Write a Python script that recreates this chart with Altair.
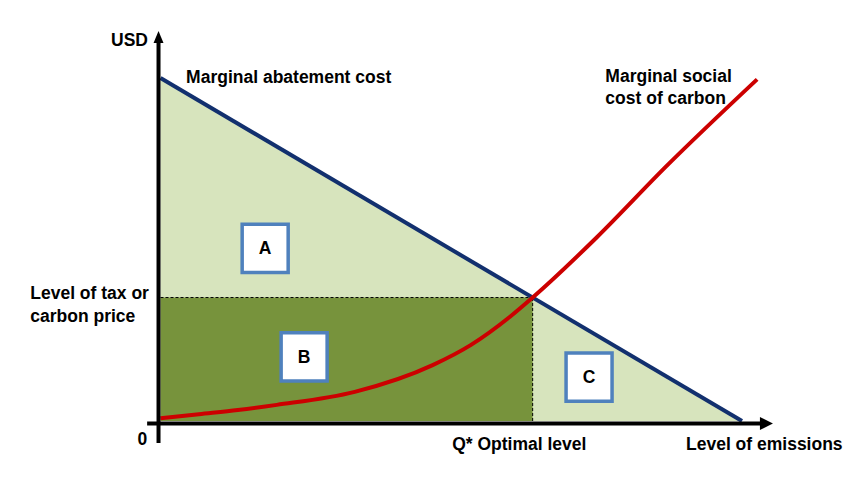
import altair as alt
import pandas as pd

# ---- data (economic units: quantity of emissions 0-100, USD 0-100) ----
Q_STAR = 64.0          # optimal emissions level
PRICE = 36.0           # level of tax / carbon price

mac_q = [0, 100]       # marginal abatement cost line
mac_p = [100, 0]

msc_q = [0, 6.6, 13.3, 20.0, 33.4, 46.8, 53.4, 60.1, 64.0, 75.0, 87.0, 102.6]
msc_p = [0.8, 2.0, 3.2, 4.7, 8.5, 16.3, 22.2, 30.4, 36.0, 53.5, 74.3, 99.6]

box_labels = ["A", "B", "C"]
box_q = [18.0, 24.7, 73.7]
box_p = [50.3, 18.7, 12.8]

left_texts = ["Marginal abatement cost", "Marginal social", "cost of carbon",
              "Level of tax or", "carbon price"]
left_q = [4.4, 76.5, 76.5, -22.4, -22.4]
left_p = [98.5, 98.7, 92.3, 35.5, 29.0]

center_texts = ["0", "Q* Optimal level"]
center_q = [-3.1, 61.7]
center_p = [-7.0, -8.5]

right_texts = ["USD", "Level of emissions"]
right_q = [-2.15, 117.3]
right_p = [109.2, -8.5]

FONT = "Liberation Sans"
FS = 17.5
BLUE = "#12306e"
RED = "#cc0000"
LIGHT = "#d7e4bd"
DARK = "#77933c"
BOXC = "#4f81bd"

xs = alt.Scale(domain=[0, 100], range=[152.5, 734], nice=False, zero=False)
ys = alt.Scale(domain=[0, 100], range=[413, 70], nice=False, zero=False)


def X(field="q"):
    return alt.X(f"{field}:Q", scale=xs, axis=None)


def Y(field="p"):
    return alt.Y(f"{field}:Q", scale=ys, axis=None)


# light green triangle under the MAC line
tri_df = pd.DataFrame({"q": mac_q, "p": mac_p, "p0": [0, 0]})
tri = alt.Chart(tri_df).mark_area(color=LIGHT, opacity=1).encode(
    x=X(), y=Y(), y2="p0:Q")

# dark green rectangle B
rect_df = pd.DataFrame({"q0": [0], "q1": [Q_STAR], "p0": [0], "p1": [PRICE]})
rect = alt.Chart(rect_df).mark_rect(color=DARK, opacity=1).encode(
    x=X("q0"), x2="q1:Q", y=Y("p0"), y2="p1:Q")

# dashed guide lines
hdash = alt.Chart(pd.DataFrame({"q0": [0], "q1": [Q_STAR], "p": [PRICE]})).mark_rule(
    color="black", strokeWidth=1, strokeDash=[3, 2]).encode(x=X("q0"), x2="q1:Q", y=Y())
vdash = alt.Chart(pd.DataFrame({"q": [Q_STAR], "p0": [0], "p1": [PRICE]})).mark_rule(
    color="black", strokeWidth=1, strokeDash=[3, 2]).encode(x=X(), y=Y("p0"), y2="p1:Q")

# MAC line
mac = alt.Chart(pd.DataFrame({"q": mac_q, "p": mac_p})).mark_line(
    color=BLUE, strokeWidth=4).encode(x=X(), y=Y())

# MSC curve
msc = alt.Chart(pd.DataFrame({"q": msc_q, "p": msc_p})).mark_line(
    color=RED, strokeWidth=4, interpolate="monotone").encode(x=X(), y=Y(), order="q:Q")

# axes
xaxis = alt.Chart(pd.DataFrame({"q0": [-2.3], "q1": [103.7], "p": [-0.73]})).mark_rule(
    color="black", strokeWidth=4).encode(x=X("q0"), x2="q1:Q", y=Y())
yaxis = alt.Chart(pd.DataFrame({"q": [-0.34], "p0": [-6.4], "p1": [110.5]})).mark_rule(
    color="black", strokeWidth=4).encode(x=X(), y=Y("p0"), y2="p1:Q")

xarrow = alt.Chart(pd.DataFrame({"q": [104.2], "p": [-0.73]})).mark_point(
    shape="M1,0L-1,1L-1,-1Z", size=169, filled=True, color="black", opacity=1,
    strokeWidth=0).encode(x=X(), y=Y())
yarrow = alt.Chart(pd.DataFrame({"q": [-0.34], "p": [111.95]})).mark_point(
    shape="M0,-1L0.83,1L-0.83,1Z", size=144, filled=True, color="black", opacity=1,
    strokeWidth=0).encode(x=X(), y=Y())

# labelled boxes
box_df = pd.DataFrame({"label": box_labels, "q": box_q, "p": box_p})
boxes = alt.Chart(box_df).mark_point(
    shape="M-1,-1.05H1V1.05H-1Z", size=2116, filled=True, fill="white",
    stroke=BOXC, strokeWidth=3.5, opacity=1).encode(x=X(), y=Y())
box_text = alt.Chart(box_df).mark_text(
    font=FONT, fontSize=FS, fontWeight="bold", color="black",
    align="center", baseline="middle", dy=1).encode(x=X(), y=Y(), text="label:N")


def texts(t, q, p, align):
    df = pd.DataFrame({"t": t, "q": q, "p": p})
    return alt.Chart(df).mark_text(
        font=FONT, fontSize=FS, fontWeight="bold", color="black",
        align=align, baseline="alphabetic").encode(x=X(), y=Y(), text="t:N")


labels_l = texts(left_texts, left_q, left_p, "left")
labels_c = texts(center_texts, center_q, center_p, "center")
labels_r = texts(right_texts, right_q, right_p, "right")

chart = alt.layer(
    tri, rect, hdash, vdash, mac, msc, xaxis, yaxis, xarrow, yarrow,
    boxes, box_text, labels_l, labels_c, labels_r
).properties(
    width=835, height=465,
    autosize=alt.AutoSizeParams(type="none"),
    padding=0,
    background="white",
).configure_view(stroke=None)

chart.save("out.html", embed_options={"renderer": "svg", "actions": False})
